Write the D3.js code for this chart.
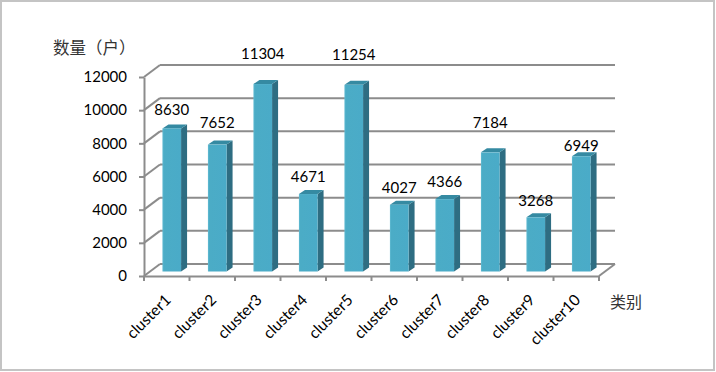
<!DOCTYPE html>
<html>
<head>
<meta charset="utf-8">
<script src="https://cdn.jsdelivr.net/npm/d3@7"></script>
<style>
  html, body { margin: 0; padding: 0; background: #fff; }
  svg { display: block; }
  text { font-family: Lato, "Open Sans", sans-serif; fill: #000; }
</style>
</head>
<body>
<script>
// data
const categories = ["cluster1", "cluster2", "cluster3", "cluster4", "cluster5",
                    "cluster6", "cluster7", "cluster8", "cluster9", "cluster10"];
const values = [8630, 7652, 11304, 4671, 11254, 4027, 4366, 7184, 3268, 6949];
const yTicks = [0, 2000, 4000, 6000, 8000, 10000, 12000];
const yTitle = "数量（户）";
const xTitle = "类别";

// layout
const width = 716;
const height = 372;
const plot = { left: 144, right: 599, top: 77, bottom: 276 };
const depth = { x: 16, y: 12 };    // floor depth of the 3d box
const barDepth = { x: 6, y: 4 };   // depth of each bar
const barInset = { x: 5, y: 4.5 }; // bars stand slightly behind the front edge
const gridColor = "#8c8c8c";

// labels were moved by hand in the original, so they do not sit on the bars
const labelGap = [13, 17, 25, 12, 25, 12, 12, 24, 11, 5];

const xScale = d3.scaleBand()
                 .domain(categories)
                 .range([plot.left, plot.right])
                 .paddingInner(0.59)
                 .paddingOuter(0.295);

const yScale = d3.scaleLinear()
                 .domain([0, 12000])
                 .range([plot.bottom, plot.top]);

const svg = d3.select("body")
              .append("svg")
              .attr("width", width)
              .attr("height", height);

// outer frame
svg.append("rect")
   .attr("x", 1).attr("y", 1)
   .attr("width", width - 3).attr("height", height - 3)
   .attr("fill", "#fff")
   .attr("stroke", "#c4c4c4")
   .attr("stroke-width", 2);

const defs = svg.append("defs");
const grad = defs.append("linearGradient").attr("id", "barFront");
grad.append("stop").attr("offset", "0%").attr("stop-color", "#63bcd3");
grad.append("stop").attr("offset", "8%").attr("stop-color", "#4bacc6");
grad.append("stop").attr("offset", "100%").attr("stop-color", "#4aabc8");

// back wall grid and left wall diagonals
const grid = svg.append("g")
                .attr("fill", "none")
                .attr("stroke", gridColor)
                .attr("stroke-width", 2);

grid.selectAll(".back")
    .data(yTicks)
    .enter()
    .append("line")
    .attr("x1", plot.left + depth.x)
    .attr("x2", plot.right + depth.x)
    .attr("y1", d => yScale(d) - depth.y)
    .attr("y2", d => yScale(d) - depth.y);

grid.selectAll(".side")
    .data(yTicks)
    .enter()
    .append("line")
    .attr("x1", plot.left)
    .attr("x2", plot.left + depth.x)
    .attr("y1", d => yScale(d))
    .attr("y2", d => yScale(d) - depth.y);

// floor right edge
grid.append("line")
    .attr("x1", plot.right)
    .attr("x2", plot.right + depth.x)
    .attr("y1", plot.bottom)
    .attr("y2", plot.bottom - depth.y);

// axes
const leftAxis = d3.axisLeft(yScale)
                   .tickValues(yTicks)
                   .tickFormat(d3.format("d"))
                   .tickSize(5)
                   .tickPadding(12)
                   .tickSizeOuter(0);

const bottomAxis = d3.axisBottom(xScale)
                     .tickValues([])
                     .tickSizeOuter(0);

const leftG = svg.append("g")
                 .attr("transform", "translate(" + plot.left + ",0)")
                 .call(leftAxis);
leftG.selectAll("path, line").attr("stroke", gridColor).attr("stroke-width", 2);
leftG.selectAll("text")
     .style("font-size", "15px")
     .attr("fill", "#000");

const bottomG = svg.append("g")
                   .attr("transform", "translate(0," + plot.bottom + ")")
                   .call(bottomAxis);
bottomG.select("path").attr("stroke", gridColor).attr("stroke-width", 2);

// tick marks fall on the band edges
bottomG.selectAll(".edge")
       .data(d3.range(categories.length + 1))
       .enter()
       .append("line")
       .attr("x1", i => plot.left + i * xScale.step())
       .attr("x2", i => plot.left + i * xScale.step())
       .attr("y1", 0)
       .attr("y2", 5)
       .attr("stroke", gridColor)
       .attr("stroke-width", 2);

// bars
const bars = svg.selectAll(".bar")
                .data(values)
                .enter()
                .append("g")
                .attr("class", "bar")
                .attr("transform", (d, i) => "translate(" + (xScale(categories[i]) + barInset.x) + "," + (-barInset.y) + ")");

const w = xScale.bandwidth();

bars.append("polygon")
    .attr("fill", "#2e6d82")
    .attr("points", d => [
        [w, yScale(d)],
        [w + barDepth.x, yScale(d) - barDepth.y],
        [w + barDepth.x, yScale(0) - barDepth.y],
        [w, yScale(0)]
    ].join(" "));

bars.append("polygon")
    .attr("fill", "#358aa2")
    .attr("points", d => [
        [0, yScale(d)],
        [barDepth.x, yScale(d) - barDepth.y],
        [w + barDepth.x, yScale(d) - barDepth.y],
        [w, yScale(d)]
    ].join(" "));

bars.append("rect")
    .attr("x", 0)
    .attr("y", d => yScale(d))
    .attr("width", w)
    .attr("height", d => yScale(0) - yScale(d))
    .attr("fill", "url(#barFront)");

// value labels
svg.selectAll(".value")
   .data(values)
   .enter()
   .append("text")
   .attr("class", "value")
   .attr("x", (d, i) => xScale(categories[i]) + barInset.x + w / 2)
   .attr("y", (d, i) => yScale(d) - barInset.y - labelGap[i])
   .attr("text-anchor", "middle")
   .style("font-size", "15px")
   .text(d => d);

// category labels
svg.selectAll(".cat")
   .data(categories)
   .enter()
   .append("text")
   .attr("class", "cat")
   .attr("text-anchor", "end")
   .attr("transform", d => "translate(" + (xScale(d) + w / 2 + 5) + "," + (plot.bottom + 25) + ") rotate(-45)")
   .style("font-size", "15.5px")
   .text(d => d);

// axis titles
svg.append("text")
   .attr("x", 53)
   .attr("y", 54)
   .style("font-family", "'Noto Sans CJK SC'")
   .style("font-size", "16.5px")
   .style("fill", "#333")
   .text(yTitle);

svg.append("text")
   .attr("x", 610)
   .attr("y", 308)
   .style("font-family", "'Noto Sans CJK SC'")
   .style("font-size", "16px")
   .style("fill", "#333")
   .text(xTitle);
</script>
</body>
</html>
